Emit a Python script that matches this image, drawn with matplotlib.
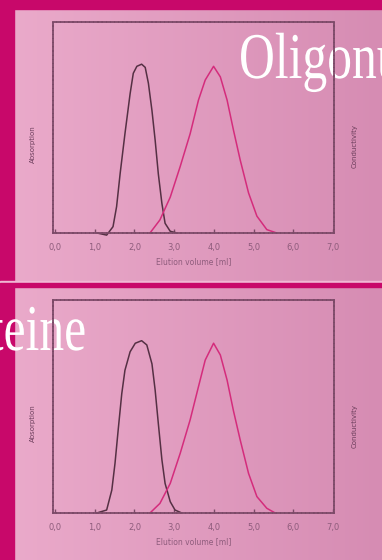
import numpy as np
import matplotlib
matplotlib.use("Agg")
import matplotlib.pyplot as plt
from matplotlib.patheffects import AbstractPathEffect
from matplotlib.transforms import Affine2D

# ====================================================
# DATA
# ====================================================

tick_vals = [0, 1, 2, 3, 4, 5, 6, 7]
tick_labels = ["0,0", "1,0", "2,0", "3,0", "4,0", "5,0", "6,0", "7,0"]

# top panel
top_abs_x = [1.06, 1.30, 1.46, 1.55, 1.64, 1.76, 1.89, 1.97, 2.06, 2.18, 2.27,
             2.35, 2.44, 2.52, 2.60, 2.69, 2.77, 2.90, 3.07]
top_abs_y = [0.0, -0.01, 0.03, 0.125, 0.283, 0.47, 0.66, 0.757, 0.79, 0.80, 0.785,
             0.71, 0.58, 0.44, 0.28, 0.14, 0.046, 0.008, 0.0]
top_cond_x = [2.39, 2.64, 2.90, 3.15, 3.40, 3.61, 3.78, 3.99, 4.16, 4.33, 4.49,
              4.66, 4.87, 5.08, 5.33, 5.58]
top_cond_y = [0.0, 0.062, 0.17, 0.315, 0.47, 0.63, 0.725, 0.79, 0.74, 0.63, 0.488,
              0.346, 0.19, 0.08, 0.016, 0.0]

# bottom panel
bot_abs_x = [1.05, 1.30, 1.43, 1.51, 1.59, 1.68, 1.76, 1.89, 2.02, 2.18, 2.31,
             2.44, 2.52, 2.60, 2.69, 2.77, 2.90, 3.02, 3.19]
bot_abs_y = [0.0, 0.014, 0.108, 0.233, 0.39, 0.56, 0.67, 0.757, 0.797, 0.809, 0.789,
             0.70, 0.577, 0.42, 0.25, 0.139, 0.053, 0.014, 0.0]
bot_cond_x = [2.39, 2.64, 2.90, 3.15, 3.40, 3.61, 3.78, 3.99, 4.16, 4.33, 4.49,
              4.66, 4.87, 5.08, 5.33, 5.54]
bot_cond_y = [0.0, 0.045, 0.139, 0.28, 0.437, 0.593, 0.718, 0.797, 0.742, 0.624, 0.48,
              0.343, 0.186, 0.077, 0.022, 0.0]

W, H = 382, 560
MAGENTA = "#c8086a"
FRAME = "#7c4a68"
TICKTXT = "#8e5c7c"
BLACK_LINE = "#553044"
PINK_LINE = "#d42c7c"


class HScale(AbstractPathEffect):
    """squeeze text horizontally around a fixed x (pixels)"""

    def __init__(self, x0, sx):
        super().__init__()
        self.x0 = x0
        self.sx = sx

    def draw_path(self, renderer, gc, tpath, affine, rgbFace=None):
        t = affine + Affine2D().translate(-self.x0, 0).scale(self.sx, 1).translate(self.x0, 0)
        renderer.draw_path(gc, tpath, t, rgbFace)


fig = plt.figure(figsize=(W / 100, H / 100), dpi=100)

# ====================================================
# BACKGROUND
# ====================================================

bg = fig.add_axes([0, 0, 1, 1])
bg.set_xlim(0, W)
bg.set_ylim(H, 0)
bg.axis("off")

grad = np.linspace(0, 1, 256).reshape(1, -1)
cmap = matplotlib.colors.LinearSegmentedColormap.from_list("bgp", ["#ebabcb", "#d68cb3"])
bg.imshow(grad, cmap=cmap, aspect="auto", extent=(0, W, H, 0), zorder=0)

bg.add_patch(plt.Rectangle((0, 0), W, 9, color=MAGENTA, zorder=1))
bg.add_patch(plt.Rectangle((0, 0), 14, H, color=MAGENTA, zorder=1))
bg.add_patch(plt.Rectangle((0, 281), W, 2, color="#f0b8d4", zorder=1))
bg.add_patch(plt.Rectangle((0, 283), W, 4, color=MAGENTA, zorder=1))

# ====================================================
# PANELS
# ====================================================


def panel(top_px, bottom_px, abs_x, abs_y, cond_x, cond_y):
    left_px, right_px = 53, 334
    ax = fig.add_axes([left_px / W, 1 - bottom_px / H,
                       (right_px - left_px) / W, (bottom_px - top_px) / H])
    ax.patch.set_alpha(0)
    ax.set_xlim(-0.05, 7.02)
    ax.set_ylim(0, 1)

    ax.plot(abs_x, abs_y, color=BLACK_LINE, lw=1.1, clip_on=False)
    ax.plot(cond_x, cond_y, color=PINK_LINE, lw=1.1, clip_on=False)

    for s in ax.spines.values():
        s.set_color(FRAME)
        s.set_linewidth(1.3)
        s.set_linestyle((0, (1.5, 0.8)))

    ax.set_yticks([])
    ax.set_xticks(tick_vals)
    ax.set_xticklabels(tick_labels, fontsize=6, color=TICKTXT)
    ax.tick_params(axis="x", direction="in", length=3, width=1, color=FRAME, pad=7)
    ax.set_xlabel("Elution volume [ml]", fontsize=5.5, color=TICKTXT, labelpad=4)

    ax.text(-0.072, 0.42, "Absorption", rotation=90, transform=ax.transAxes,
            ha="center", va="center", fontsize=5, color="#6a3c5a")
    ax.text(1.075, 0.41, "Conductivity", rotation=90, transform=ax.transAxes,
            ha="center", va="center", fontsize=5, color="#6a3c5a")
    return ax


panel(22, 233, top_abs_x, top_abs_y, top_cond_x, top_cond_y)
panel(300, 513, bot_abs_x, bot_abs_y, bot_cond_x, bot_cond_y)

# ====================================================
# TITLES (cut at the page edge, as in the reference)
# ====================================================

bg.text(239, 78, "Oligonu", fontsize=47, family="Liberation Serif", color="white",
        ha="left", va="baseline", zorder=5, clip_on=False,
        path_effects=[HScale(239, 0.76)])
bg.text(86, 350, "teine", fontsize=47, family="Liberation Serif", color="white",
        ha="right", va="baseline", zorder=5, clip_on=False,
        path_effects=[HScale(86, 0.76)])

fig.savefig("out.png", dpi=100)
